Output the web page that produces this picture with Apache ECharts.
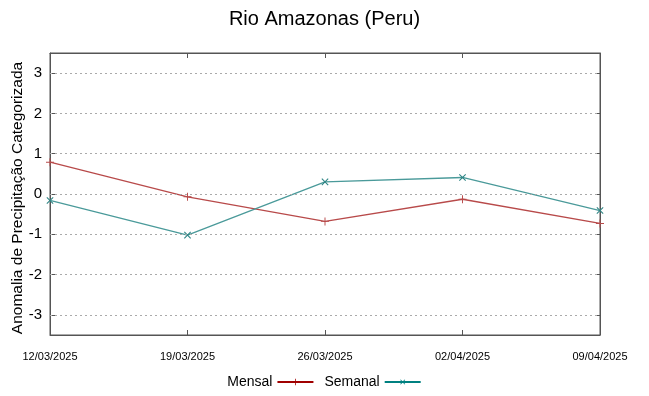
<!DOCTYPE html>
<html><head><meta charset="utf-8">
<script src="https://cdn.jsdelivr.net/npm/echarts@6/dist/echarts.min.js"></script>
<style>html,body{margin:0;padding:0;background:#fff}#c{width:649px;height:396px}</style>
</head><body><div id="c"></div>
<script>
const categories = ['12/03/2025','19/03/2025','26/03/2025','02/04/2025','09/04/2025'];
const mensal = [0.79, -0.07, -0.68, -0.13, -0.73];
const semanal = [-0.16, -1.02, 0.30, 0.41, -0.41];
const yTicks = [-3,-2,-1,0,1,2,3];
const yTitle = 'Anomalia de Precipitação Categorizada';

const plusPath = 'path://M4.4,0H5.6V10H4.4ZM0,4.4H10V5.6H0Z';
const font = 'Liberation Sans, Arial, sans-serif';
const axisColor = '#555';
const chart = echarts.init(document.getElementById('c'));
chart.setOption({
  animation:false,
  title:{text:'Rio Amazonas (Peru)', left:'center', top:4, textStyle:{fontFamily:font, fontSize:20, fontWeight:'normal', color:'#000'}},
  grid:{left:50, right:49, top:53, bottom:61, show:true, borderColor:axisColor, borderWidth:1, outerBoundsMode:'none', containLabel:false},
  graphic:[{type:'text', x:18, y:198, rotation:Math.PI/2,
    style:{text:yTitle, font:'15.5px Liberation Sans, Arial, sans-serif', fill:'#000', align:'center', verticalAlign:'middle'}}],
  legend:{bottom:2, left:'center', align:'right', itemWidth:36, itemHeight:8, itemGap:10,
    textStyle:{fontFamily:font, fontSize:14, color:'#000'},
    data:[{name:'Mensal', itemStyle:{color:'#a00000'}, lineStyle:{color:'#a00000'}},
          {name:'Semanal', itemStyle:{color:'#008080'}, lineStyle:{color:'#008080'}}]},
  xAxis:[{type:'category', data:categories, boundaryGap:false,
    axisLine:{onZero:false, lineStyle:{color:axisColor}}, axisTick:{inside:true, length:5, lineStyle:{color:axisColor}},
    axisLabel:{fontFamily:font, fontSize:11, color:'#000', margin:16, showMinLabel:true, showMaxLabel:true, interval:0},
    splitLine:{show:false}},
    {type:'category', data:categories, boundaryGap:false, position:'top',
    axisLine:{onZero:false, lineStyle:{color:axisColor}}, axisTick:{inside:true, length:5, lineStyle:{color:axisColor}},
    axisLabel:{show:false}, splitLine:{show:false}}],
  yAxis:[{type:'value', min:-3.5, max:3.5, position:'left',
    axisLine:{show:true, onZero:false, lineStyle:{color:axisColor}},
    axisTick:{show:true, inside:true, length:5, customValues:yTicks, lineStyle:{color:axisColor}},
    axisLabel:{fontFamily:font, fontSize:15, color:'#000', margin:8, customValues:yTicks},
    splitLine:{show:false}},
    {type:'value', min:-3.5, max:3.5, position:'right',
    axisLine:{show:true, onZero:false, lineStyle:{color:axisColor}},
    axisTick:{show:true, inside:true, length:5, customValues:yTicks, lineStyle:{color:axisColor}},
    axisLabel:{show:false}, splitLine:{show:false}}],
  series:[
    {name:'Mensal', type:'line', data:mensal, symbol:plusPath, symbolSize:8,
      lineStyle:{color:'#b84a4a', width:1.3}, itemStyle:{color:'#b84a4a'}, z:3,
      markLine:{silent:true, symbol:'none', label:{show:false},
        lineStyle:{color:'#aaa', type:[2,3], width:1},
        data:yTicks.map(v=>({yAxis:v}))}},
    {name:'Semanal', type:'line', data:semanal, symbol:plusPath, symbolSize:9, symbolRotate:45,
      lineStyle:{color:'#4a9a9a', width:1.3}, itemStyle:{color:'#2f8585'}, z:3}
  ]
});
</script></body></html>
